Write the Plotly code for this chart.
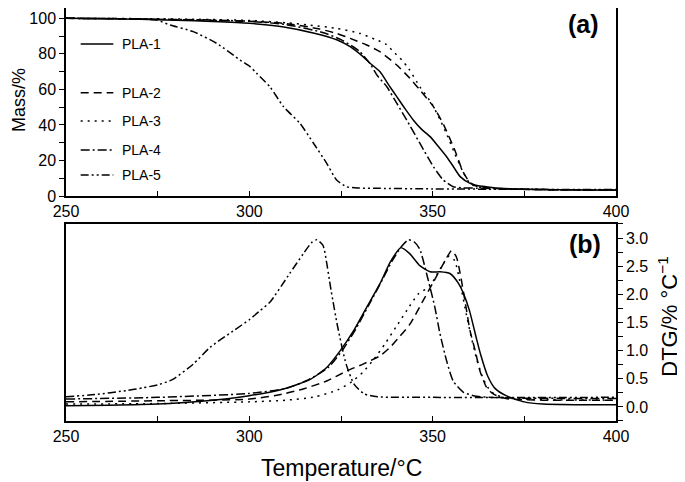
import plotly.graph_objects as go

# ---------------- data: TGA (mass %) ----------------
pla1_T = [250, 260, 270, 280, 290, 300, 309, 318, 324, 327.5, 331, 333, 335.6, 338, 340.2, 342.5, 344.7, 347, 349.3, 351.5, 353.8, 355.5, 357.5, 360.2, 362.5, 364.7, 368.4, 375, 385, 400]
pla1_M = [100, 99.8, 99.4, 98.9, 98.2, 97.2, 95.3, 91.5, 87.8, 84, 78.4, 74.6, 70, 62.5, 55.9, 49, 42.8, 37.5, 33.4, 28, 22.1, 17, 10.9, 7.1, 5.8, 5.2, 4.3, 3.8, 3.5, 3.2]

pla2_T = [250, 270, 290, 300, 309.3, 318.4, 323.8, 327.5, 332, 335.6, 340.2, 343.8, 346.5, 350.2, 353, 356, 358.3, 360.2, 362, 365, 370, 380, 400]
pla2_M = [100, 99.6, 98.8, 98.3, 97.2, 94.3, 91.5, 88.7, 85, 81.2, 73.7, 66.2, 59.7, 50.3, 40, 26, 13.5, 7.5, 5.5, 4.6, 4, 3.5, 3.2]

pla3_T = [250, 270, 290, 300, 310, 316.5, 323.8, 330.2, 334.7, 337.2, 339.3, 341.6, 343.4, 346.5, 349.7, 352, 354, 356, 358.3, 360.2, 362, 365, 370, 380, 400]
pla3_M = [100, 99.8, 99.3, 98.8, 97.5, 96.2, 94.3, 91.5, 87.8, 85.5, 81.2, 76.5, 71.9, 61.5, 52.2, 43, 34, 24, 13.5, 7, 5.3, 4.5, 4, 3.6, 3.3]

pla4_T = [250, 270, 290, 300, 310, 320, 325, 330, 332.9, 335, 337.5, 340.2, 342.9, 346.5, 350.2, 352.9, 355.6, 358, 362, 370, 380, 400]
pla4_M = [100, 99.7, 99, 98.3, 96.5, 92, 88, 81.5, 74.5, 67.5, 61.5, 52.2, 42.8, 29.7, 16.5, 9, 5.2, 4.6, 4.4, 4, 3.6, 3.3]

pla5_T = [250, 260, 270, 274.7, 278.4, 284.7, 291.1, 297.5, 300.2, 302, 305.6, 309.3, 313.8, 317.5, 321.1, 323.8, 326.5, 330, 335.6, 350, 370, 400]
pla5_M = [100, 99.9, 99.6, 99, 96.2, 92.5, 85.9, 76.5, 72.8, 69, 61.5, 50.3, 40.9, 29.7, 18.4, 9, 5.2, 4.5, 4.3, 4, 3.8, 3.6]

# ---------------- data: DTG (%/°C) ----------------
d1_T = [250, 262, 275, 287, 300, 309.3, 316.6, 321.1, 324.8, 328.4, 332, 335.7, 338.4, 341.3, 343.8, 346.5, 349.3, 352, 354.7, 357, 358.5, 360, 362, 363, 365, 367, 370, 375, 380, 390, 400]
d1_D = [0.02, 0.03, 0.05, 0.1, 0.2, 0.32, 0.49, 0.70, 1.0, 1.35, 1.77, 2.2, 2.57, 2.83, 2.72, 2.51, 2.40, 2.40, 2.37, 2.2, 2.0, 1.72, 1.2, 0.95, 0.55, 0.33, 0.2, 0.09, 0.05, 0.04, 0.04]

d2_T = [250, 275, 300, 309.3, 314.7, 321.1, 326.6, 331, 335.7, 338.4, 341, 343.8, 347.4, 350.2, 352.9, 355.2, 356.5, 357.5, 358.8, 360.2, 361.6, 362.9, 364.7, 366.5, 370, 380, 400]
d2_D = [0.09, 0.11, 0.14, 0.23, 0.32, 0.46, 0.64, 0.76, 0.91, 1.06, 1.25, 1.47, 1.89, 2.22, 2.54, 2.78, 2.66, 2.37, 1.89, 1.35, 1.0, 0.64, 0.35, 0.23, 0.15, 0.12, 0.12]

d3_T = [250, 275, 300, 310, 318, 324, 328, 331, 334, 337, 340, 343, 346, 349.3, 352, 354.5, 356, 357.5, 359, 360.5, 362, 363.5, 365, 367, 370, 380, 400]
d3_D = [0.05, 0.06, 0.09, 0.12, 0.18, 0.3, 0.45, 0.62, 0.85, 1.12, 1.42, 1.72, 2.0, 2.15, 2.45, 2.68, 2.6, 2.2, 1.7, 1.25, 0.85, 0.55, 0.35, 0.22, 0.16, 0.13, 0.12]

d4_T = [250, 275, 300, 310, 316, 321.5, 325.3, 329, 332.5, 336.2, 339, 341.5, 343.4, 345, 346.5, 348.8, 350.6, 352, 353.8, 355.6, 358.4, 362, 370, 400]
d4_D = [0.14, 0.17, 0.24, 0.33, 0.48, 0.70, 1.0, 1.38, 1.8, 2.25, 2.6, 2.85, 2.97, 2.93, 2.8, 2.25, 1.77, 1.30, 0.82, 0.46, 0.26, 0.19, 0.16, 0.15]

d5_T = [250, 258, 266.4, 271, 275.5, 279.1, 284.7, 289.3, 295.6, 300.2, 302.9, 305.6, 311, 314.7, 317, 318.4, 320, 320.5, 322.3, 324.1, 326.4, 328.6, 331.4, 335, 350, 400]
d5_D = [0.18, 0.22, 0.29, 0.34, 0.40, 0.49, 0.76, 1.06, 1.35, 1.56, 1.71, 1.86, 2.37, 2.72, 2.92, 2.97, 2.88, 2.78, 2.07, 1.42, 0.76, 0.40, 0.23, 0.18, 0.17, 0.17]

names = ["PLA-1", "PLA-2", "PLA-3", "PLA-4", "PLA-5"]
dashes = ["solid", "8px,5px", "2px,5px", "9px,3px,2px,3px", "8px,3px,2px,3px,2px,3px"]

tga = [(pla1_T, pla1_M), (pla2_T, pla2_M), (pla3_T, pla3_M), (pla4_T, pla4_M), (pla5_T, pla5_M)]
dtg = [(d1_T, d1_D), (d2_T, d2_D), (d3_T, d3_D), (d4_T, d4_D), (d5_T, d5_D)]

# legend placement (data units of top panel)
leg_y = [85.5, 58.1, 42.2, 25.9, 11.8]
leg_x0, leg_x1, leg_tx = 254.0, 262.9, 264.8

FONT = "Liberation Sans, Arial, Helvetica, sans-serif"

fig = go.Figure()
for (T, M), n, d in zip(tga, names, dashes):
    fig.add_trace(go.Scatter(x=T, y=M, mode="lines", name=n, showlegend=False,
                             line=dict(color="black", width=1.5, dash=d, shape="spline", smoothing=0.6),
                             xaxis="x", yaxis="y"))
for (T, D), n, d in zip(dtg, names, dashes):
    fig.add_trace(go.Scatter(x=T, y=D, mode="lines", name=n, showlegend=False,
                             line=dict(color="black", width=1.5, dash=d, shape="spline", smoothing=0.6),
                             xaxis="x2", yaxis="y2"))

shapes = []
annotations = []
for yv, n, d in zip(leg_y, names, dashes):
    shapes.append(dict(type="line", xref="x", yref="y", x0=leg_x0, x1=leg_x1, y0=yv, y1=yv,
                       line=dict(color="black", width=1.5, dash=d)))
    annotations.append(dict(xref="x", yref="y", x=leg_tx, y=yv, text=n, showarrow=False,
                            xanchor="left", yanchor="middle", font=dict(size=14, family=FONT, color="black")))

annotations += [
    dict(xref="paper", yref="paper", x=0.9413, y=1.0, text="<b>(a)</b>", showarrow=False,
         xanchor="center", yanchor="top", font=dict(size=25, family=FONT, color="black")),
    dict(xref="paper", yref="paper", x=0.9436, y=0.4286, text="<b>(b)</b>", showarrow=False,
         xanchor="center", yanchor="middle", font=dict(size=25, family=FONT, color="black")),
    dict(xref="paper", yref="paper", x=-0.0855, y=0.7772, text="Mass/%", textangle=-90, showarrow=False,
         xanchor="center", yanchor="middle", font=dict(size=18, family=FONT, color="black")),
    dict(xref="paper", yref="paper", x=0.5013, y=-0.1138, text="Temperature/°C", showarrow=False,
         xanchor="center", yanchor="middle", font=dict(size=23, family=FONT, color="black")),
    dict(xref="paper", yref="paper", x=1.094, y=0.2518, text="DTG/% °C<sup>−1</sup>", textangle=-90, showarrow=False,
         xanchor="center", yanchor="middle", font=dict(size=22, family=FONT, color="black")),
]

xcommon = dict(range=[250, 400], tick0=250, dtick=50, ticks="inside", ticklen=5, tickwidth=1.2,
               tickcolor="black", showline=True, linecolor="black", linewidth=1.5, mirror=True,
               showgrid=False, zeroline=False, automargin=False,
               tickfont=dict(size=16, family=FONT, color="black"),
               minor=dict(dtick=25, tick0=250, ticks="inside", ticklen=5, tickwidth=1.2, tickcolor="black", showgrid=False))

fig.update_layout(
    width=685, height=482,
    margin=dict(l=58, r=77, t=0, b=69, autoexpand=False),
    paper_bgcolor="white", plot_bgcolor="white",
    font=dict(family=FONT, color="black"),
    xaxis=dict(anchor="y", domain=[0, 1], **xcommon),
    yaxis=dict(anchor="x", domain=[0.5448, 1], range=[0, 105.8], tick0=0, dtick=20,
               ticks="outside", ticklen=5, tickwidth=1.2, tickcolor="black",
               showline=True, linecolor="black", linewidth=1.5, mirror=True, automargin=False,
               showgrid=False, zeroline=False, tickfont=dict(size=16, family=FONT, color="black"),
               minor=dict(dtick=10, tick0=0, ticks="outside", ticklen=5, tickwidth=1.2, tickcolor="black", showgrid=False)),
    xaxis2=dict(anchor="y2", domain=[0, 1], **xcommon),
    yaxis2=dict(anchor="x2", domain=[0, 0.477], side="right", range=[-0.25, 3.25], tick0=0, dtick=0.5,
                tickformat=".1f", ticks="outside", ticklen=5, tickwidth=1.2, tickcolor="black",
                showline=True, linecolor="black", linewidth=1.5, mirror=True, automargin=False,
                showgrid=False, zeroline=False, tickfont=dict(size=16, family=FONT, color="black"),
                minor=dict(dtick=0.25, tick0=0, ticks="outside", ticklen=5, tickwidth=1.2, tickcolor="black", showgrid=False)),
    shapes=shapes,
    annotations=annotations,
)

fig.write_html("out.html")
